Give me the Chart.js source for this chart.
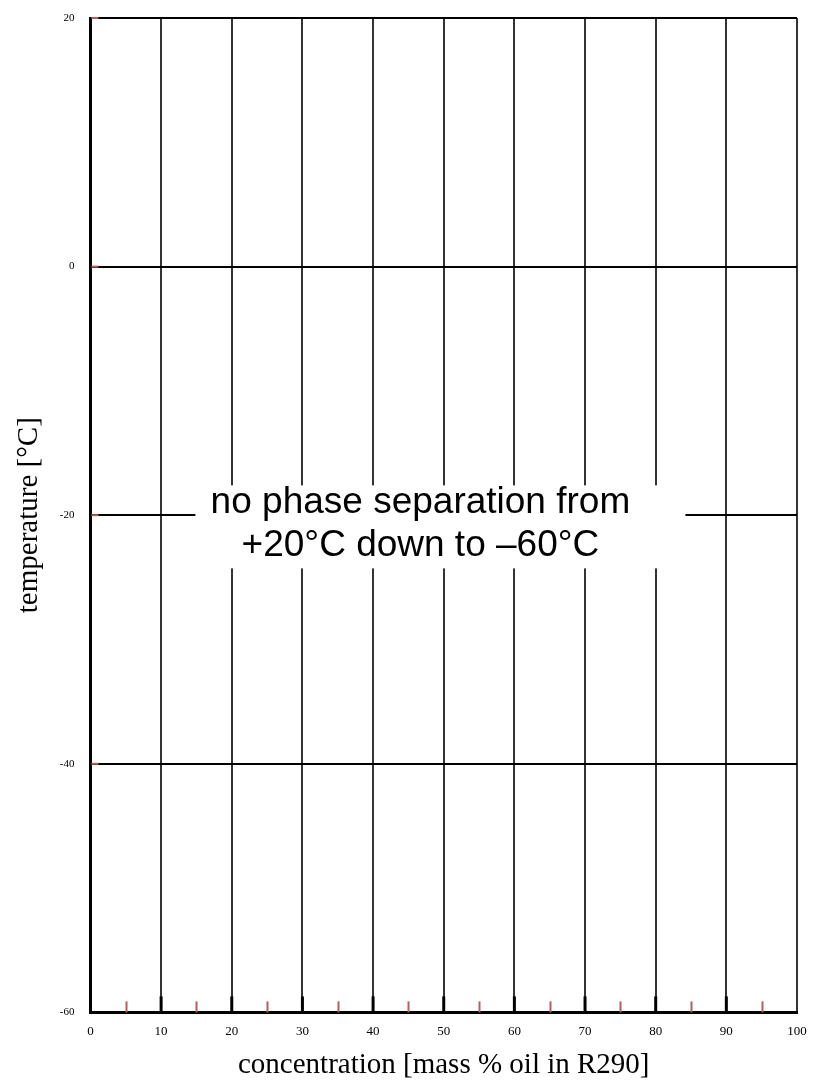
<!DOCTYPE html>
<html>
<head>
<meta charset="utf-8">
<script src="https://cdn.jsdelivr.net/npm/chart.js@4.4.0/dist/chart.umd.min.js"></script>
<style>
  html, body { margin: 0; padding: 0; background: #fff; }
  #wrap { width: 813px; height: 1082px; position: relative; }
</style>
</head>
<body>
<div id="wrap"><canvas id="phaseChart"></canvas></div>
<script>
// axis ranges and ticks
const xTicks = [0, 10, 20, 30, 40, 50, 60, 70, 80, 90, 100];
const yTicks = [-60, -40, -20, 0, 20];
// small red marks between the major concentration ticks
const minorTicks = [5, 15, 25, 35, 45, 55, 65, 75, 85, 95];
// annotation text and its anchor in data units
const noteLines = ['no phase separation from', '+20\u00b0C down to \u201360\u00b0C'];
const noteAt = { x: 46.7, y: -20.9 };

// draws the minor ticks along the bottom and the boxed note
const extrasPlugin = {
    id: 'extras',
    afterDraw(chart) {
        const ctx = chart.ctx;
        const xs = chart.scales.x;
        const ys = chart.scales.y;
        const bottom = ys.getPixelForValue(yTicks[0]);
        const left = xs.getPixelForValue(xTicks[0]);

        ctx.save();
        // red minor ticks
        ctx.strokeStyle = '#b06060';
        ctx.lineWidth = 2;
        minorTicks.forEach(v => {
            const px = Math.round(xs.getPixelForValue(v)) + 0.5;
            ctx.beginPath();
            ctx.moveTo(px, bottom);
            ctx.lineTo(px, bottom - 11);
            ctx.stroke();
        });
        // red stubs on the temperature axis
        yTicks.slice(1).forEach(v => {
            const py = ys.getPixelForValue(v);
            ctx.beginPath();
            ctx.moveTo(left + 1, py);
            ctx.lineTo(left + 8, py);
            ctx.stroke();
        });
        // heavier black stubs at the major ticks
        ctx.strokeStyle = '#000';
        ctx.lineWidth = 3;
        xTicks.slice(1, -1).forEach(v => {
            const px = xs.getPixelForValue(v);
            ctx.beginPath();
            ctx.moveTo(px, bottom);
            ctx.lineTo(px, bottom - 16);
            ctx.stroke();
        });

        // note with white background
        const cx = xs.getPixelForValue(noteAt.x);
        const cy = ys.getPixelForValue(noteAt.y);
        ctx.fillStyle = '#fff';
        ctx.fillRect(cx - 225, cy - 41, 490, 83);
        ctx.fillStyle = '#000';
        ctx.font = '37px "Liberation Sans", Arial, sans-serif';
        ctx.textAlign = 'center';
        ctx.textBaseline = 'middle';
        ctx.fillText(noteLines[0], cx, cy - 24);
        ctx.fillText(noteLines[1], cx, cy + 19);
        ctx.restore();
    }
};

document.addEventListener('DOMContentLoaded', function() {
    const ctx = document.getElementById('phaseChart');

    new Chart(ctx.getContext('2d'), {
        type: 'scatter',
        data: {
            datasets: [{
                data: [],
                showLine: false
            }]
        },
        options: {
            responsive: true,
            maintainAspectRatio: false,
            animation: false,
            events: [],
            layout: {
                padding: { top: 18, right: 16, left: 12, bottom: 0 }
            },
            plugins: {
                legend: { display: false },
                tooltip: { enabled: false }
            },
            scales: {
                x: {
                    type: 'linear',
                    min: 0,
                    max: 100,
                    afterBuildTicks: (scale) => {
                        scale.ticks = xTicks.map(v => ({ value: v }));
                    },
                    ticks: {
                        color: '#000',
                        padding: 2,
                        maxRotation: 0,
                        font: { family: '"Liberation Serif", "Times New Roman", serif', size: 13 }
                    },
                    grid: {
                        color: '#333',
                        lineWidth: 2,
                        drawTicks: true,
                        tickLength: 9,
                        tickColor: 'rgba(0,0,0,0)'
                    },
                    border: { color: '#000', width: 3 },
                    title: {
                        display: true,
                        text: 'concentration [mass % oil in R290]',
                        color: '#000',
                        padding: { top: 10, bottom: 2 },
                        font: { family: '"Liberation Serif", "Times New Roman", serif', size: 29, lineHeight: 1 }
                    }
                },
                y: {
                    type: 'linear',
                    min: -60,
                    max: 20,
                    afterBuildTicks: (scale) => {
                        scale.ticks = yTicks.map(v => ({ value: v }));
                    },
                    ticks: {
                        color: '#000',
                        padding: 2,
                        font: { family: '"Liberation Serif", "Times New Roman", serif', size: 11 }
                    },
                    grid: {
                        color: '#000',
                        lineWidth: 2,
                        drawTicks: true,
                        tickLength: 14,
                        tickColor: 'rgba(0,0,0,0)'
                    },
                    border: { color: '#000', width: 3 },
                    title: {
                        display: true,
                        text: 'temperature [\u00b0C]',
                        color: '#000',
                        padding: { top: 0, bottom: 11 },
                        font: { family: '"Liberation Serif", "Times New Roman", serif', size: 29 }
                    }
                }
            }
        },
        plugins: [extrasPlugin]
    });
});
</script>
</body>
</html>
